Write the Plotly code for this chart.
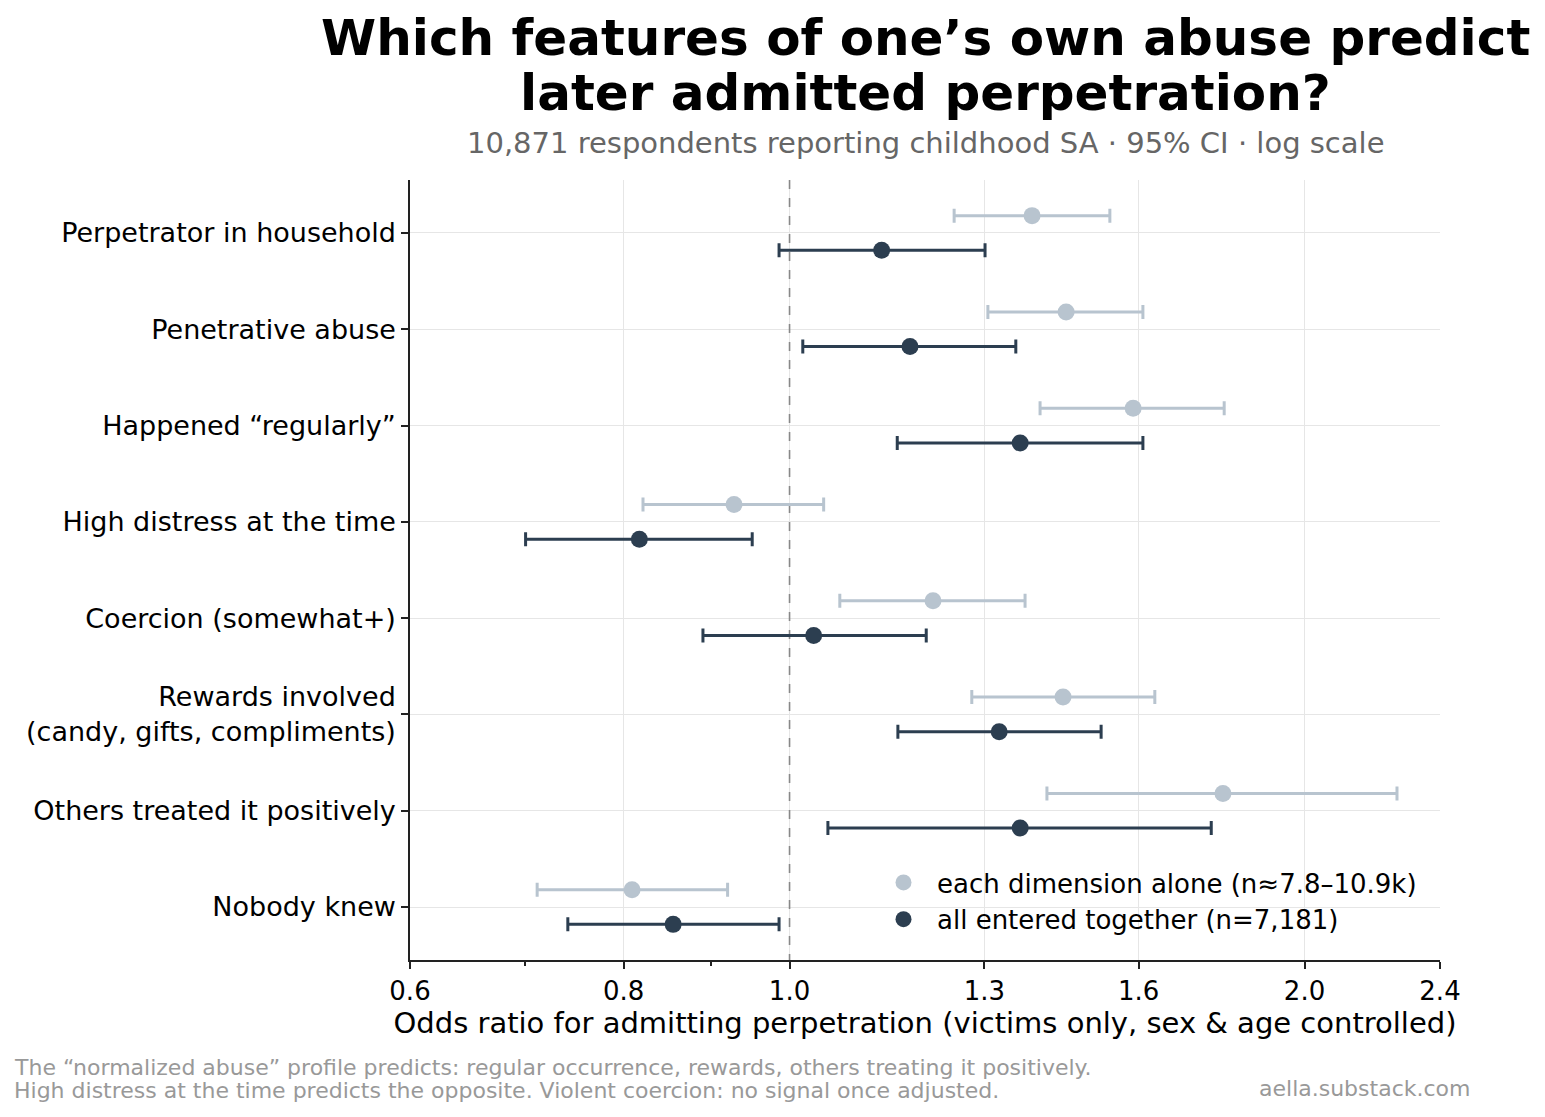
import math
import plotly.graph_objects as go

categories = [
    "Perpetrator in household",
    "Penetrative abuse",
    "Happened “regularly”",
    "High distress at the time",
    "Coercion (somewhat+)",
    "Rewards involved<br>(candy, gifts, compliments)",
    "Others treated it positively",
    "Nobody knew",
]

alone_or = [1.386, 1.451, 1.588, 0.928, 1.213, 1.445, 1.792, 0.809]
alone_lo = [1.248, 1.306, 1.401, 0.821, 1.070, 1.278, 1.414, 0.712]
alone_hi = [1.539, 1.609, 1.795, 1.047, 1.373, 1.635, 2.265, 0.920]

joint_or = [1.132, 1.176, 1.364, 0.817, 1.033, 1.326, 1.364, 0.855]
joint_lo = [0.986, 1.018, 1.156, 0.701, 0.890, 1.157, 1.053, 0.742]
joint_hi = [1.301, 1.356, 1.609, 0.951, 1.202, 1.521, 1.764, 0.986]

x_ticks = [0.6, 0.8, 1.0, 1.3, 1.6, 2.0, 2.4]
x_tick_labels = ["0.6", "0.8", "1.0", "1.3", "1.6", "2.0", "2.4"]
x_minor = [0.7, 0.9]

LIGHT = "#b8c4cf"
DARK = "#2c3e50"
FONT = "DejaVu Sans"
offset = 0.18

ypos = list(range(len(categories)))

# plot area in pixels (for placing surrounding texts)
PL, PR, PT, PB = 410, 1440, 180, 960
def px_x(x):
    return (x - PL) / (PR - PL)
def px_y(y):
    return (PB - y) / (PB - PT)

fig = go.Figure()

# reference line at OR = 1
fig.add_trace(go.Scatter(
    x=[1.0, 1.0], y=[-0.55, len(categories) - 0.45], mode="lines",
    line=dict(color="#888888", width=1.6, dash="dash"),
    showlegend=False, hoverinfo="skip",
))

fig.add_trace(go.Scatter(
    x=alone_or, y=[y - offset for y in ypos], mode="markers",
    name="each dimension alone (n≈7.8–10.9k)",
    marker=dict(color=LIGHT, size=17),
    error_x=dict(type="data", symmetric=False,
                 array=[h - o for h, o in zip(alone_hi, alone_or)],
                 arrayminus=[o - l for o, l in zip(alone_or, alone_lo)],
                 color=LIGHT, thickness=3, width=7),
))
fig.add_trace(go.Scatter(
    x=joint_or, y=[y + offset for y in ypos], mode="markers",
    name="all entered together (n=7,181)",
    marker=dict(color=DARK, size=17),
    error_x=dict(type="data", symmetric=False,
                 array=[h - o for h, o in zip(joint_hi, joint_or)],
                 arrayminus=[o - l for o, l in zip(joint_or, joint_lo)],
                 color=DARK, thickness=3, width=7),
))

fig.update_layout(
    width=1545, height=1117,
    margin=dict(l=PL, r=1545 - PR, t=PT, b=1117 - PB),
    paper_bgcolor="white", plot_bgcolor="white",
    font=dict(family=FONT, size=27, color="black"),
    legend=dict(
        x=px_x(870), y=px_y(859), xanchor="left", yanchor="top",
        bgcolor="rgba(255,255,255,0)", font=dict(size=26),
        itemsizing="trace", itemwidth=57, tracegroupgap=0,
    ),
    showlegend=True,
)

fig.update_xaxes(
    type="log",
    range=[math.log10(0.6), math.log10(2.4)],
    tickvals=x_ticks, ticktext=x_tick_labels,
    ticks="outside", ticklen=7, tickwidth=1.5, tickcolor="#222",
    showline=True, linecolor="#222", linewidth=1.5, mirror=False,
    showgrid=True, gridcolor="#e6e6e6", gridwidth=1,
    zeroline=False,
    minor=dict(tickvals=x_minor, ticks="outside", ticklen=4, tickcolor="#222", showgrid=False),
    title=dict(text="Odds ratio for admitting perpetration (victims only, sex & age controlled)",
               font=dict(size=29), standoff=6),
    tickfont=dict(size=26),
)

fig.update_yaxes(
    range=[len(categories) - 0.45, -0.55],
    tickvals=ypos, ticktext=categories,
    ticks="outside", ticklen=7, tickwidth=1.5, tickcolor="#222",
    showline=True, linecolor="#222", linewidth=1.5, mirror=False,
    showgrid=True, gridcolor="#e6e6e6", gridwidth=1,
    zeroline=False,
    tickfont=dict(size=27),
)

# title (two lines placed separately to match line spacing)
for txt, yc in [("Which features of one’s own abuse predict", 38),
                ("later admitted perpetration?", 93)]:
    fig.add_annotation(
        text="<b>" + txt + "</b>", xref="paper", yref="paper",
        x=0.5, y=px_y(yc), xanchor="center", yanchor="middle", showarrow=False,
        font=dict(family=FONT, size=50, color="black"),
    )

fig.add_annotation(
    text="10,871 respondents reporting childhood SA · 95% CI · log scale",
    xref="paper", yref="paper", x=0.5, y=px_y(143),
    xanchor="center", yanchor="middle", showarrow=False,
    font=dict(family=FONT, size=29, color="#666666"),
)
for txt, yc in [("The “normalized abuse” profile predicts: regular occurrence, rewards, others treating it positively.", 1067),
                ("High distress at the time predicts the opposite. Violent coercion: no signal once adjusted.", 1090)]:
    fig.add_annotation(
        text=txt, xref="paper", yref="paper", x=px_x(12), y=px_y(yc),
        xanchor="left", yanchor="middle", align="left", showarrow=False,
        font=dict(family=FONT, size=22, color="#999999"),
    )
fig.add_annotation(
    text="aella.substack.com",
    xref="paper", yref="paper", x=px_x(1472), y=px_y(1088),
    xanchor="right", yanchor="middle", showarrow=False,
    font=dict(family=FONT, size=22, color="#999999"),
)

fig.write_html("out.html")
